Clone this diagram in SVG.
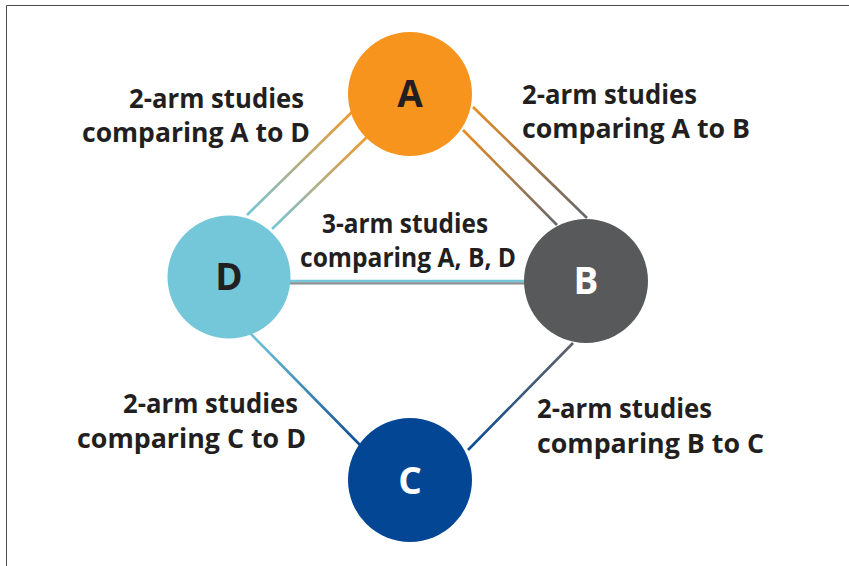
<svg xmlns="http://www.w3.org/2000/svg" width="849" height="566" viewBox="0 0 849 566">
<style>
.lbl{font-family:"Open Sans","Liberation Sans",sans-serif;font-weight:700;font-size:26px;fill:#231F20}
.nl{font-family:"Open Sans","Liberation Sans",sans-serif;font-weight:700;font-size:37px;text-anchor:middle}
.c{fill:none;stroke-width:2.6}
</style>
<defs>
<linearGradient id="gAD1" gradientUnits="userSpaceOnUse" x1="352" y1="112" x2="247" y2="215"><stop offset="0" stop-color="#F1962A"/><stop offset="1" stop-color="#74C6D9"/></linearGradient>
<linearGradient id="gAD2" gradientUnits="userSpaceOnUse" x1="367" y1="137" x2="272" y2="229"><stop offset="0" stop-color="#F1962A"/><stop offset="1" stop-color="#74C6D9"/></linearGradient>
<linearGradient id="gAB1" gradientUnits="userSpaceOnUse" x1="473" y1="107" x2="587" y2="218"><stop offset="0" stop-color="#E98B1F"/><stop offset="1" stop-color="#66676A"/></linearGradient>
<linearGradient id="gAB2" gradientUnits="userSpaceOnUse" x1="463" y1="130" x2="557" y2="225"><stop offset="0" stop-color="#E98B1F"/><stop offset="1" stop-color="#66676A"/></linearGradient>
<linearGradient id="gDC" gradientUnits="userSpaceOnUse" x1="250" y1="333" x2="360" y2="445"><stop offset="0" stop-color="#74C6D9"/><stop offset="1" stop-color="#0B4D96"/></linearGradient>
<linearGradient id="gBC" gradientUnits="userSpaceOnUse" x1="573" y1="343" x2="468" y2="450"><stop offset="0" stop-color="#5E6064"/><stop offset="1" stop-color="#0B4D96"/></linearGradient>
</defs>
<rect width="849" height="566" fill="#fff"/>
<path d="M6.5 566V5.5H849" fill="none" stroke="#4a4a4a" stroke-width="1"/>
<g id="connectors">
<line class="c" x1="352" y1="112" x2="247" y2="215" stroke="url(#gAD1)"/>
<line class="c" x1="367" y1="137" x2="272" y2="229" stroke="url(#gAD2)"/>
<line class="c" x1="473" y1="107" x2="587" y2="218" stroke="url(#gAB1)"/>
<line class="c" x1="463" y1="130" x2="557" y2="225" stroke="url(#gAB2)"/>
<line x1="288" y1="281" x2="527" y2="281" stroke="#74C6D9" stroke-width="2.3"/>
<line x1="288" y1="283.4" x2="527" y2="283.4" stroke="#8A8B8E" stroke-width="2.3"/>
<line class="c" x1="250" y1="333" x2="360" y2="445" stroke="url(#gDC)"/>
<line class="c" x1="573" y1="343" x2="468" y2="450" stroke="url(#gBC)"/>
</g>
<g id="nodeA"><circle cx="410" cy="94" r="62" fill="#F7941D"/><text class="nl" x="410" y="107" fill="#231F20">A</text></g>
<g id="nodeD"><circle cx="229" cy="277" r="61.5" fill="#74C6D9"/><text class="nl" x="229" y="290" fill="#231F20">D</text></g>
<g id="nodeB"><circle cx="586" cy="281" r="62" fill="#58595B"/><text class="nl" x="586" y="294" fill="#fff">B</text></g>
<g id="nodeC"><circle cx="410" cy="480" r="62" fill="#034694"/><text class="nl" x="410" y="494" fill="#fff">C</text></g>
<g id="labels">
<text class="lbl" x="129" y="108" textLength="175" lengthAdjust="spacingAndGlyphs">2-arm studies</text>
<text class="lbl" x="82" y="142" textLength="228" lengthAdjust="spacingAndGlyphs">comparing A to D</text>
<text class="lbl" x="522" y="104" textLength="175" lengthAdjust="spacingAndGlyphs">2-arm studies</text>
<text class="lbl" x="522" y="138" textLength="228" lengthAdjust="spacingAndGlyphs">comparing A to B</text>
<text class="lbl" x="322" y="233" textLength="166" lengthAdjust="spacingAndGlyphs">3-arm studies</text>
<text class="lbl" x="300" y="267" textLength="216" lengthAdjust="spacingAndGlyphs">comparing A, B, D</text>
<text class="lbl" x="123" y="413" textLength="175" lengthAdjust="spacingAndGlyphs">2-arm studies</text>
<text class="lbl" x="77" y="448" textLength="229" lengthAdjust="spacingAndGlyphs">comparing C to D</text>
<text class="lbl" x="537" y="418" textLength="175" lengthAdjust="spacingAndGlyphs">2-arm studies</text>
<text class="lbl" x="537" y="453" textLength="227" lengthAdjust="spacingAndGlyphs">comparing B to C</text>
</g>
</svg>
